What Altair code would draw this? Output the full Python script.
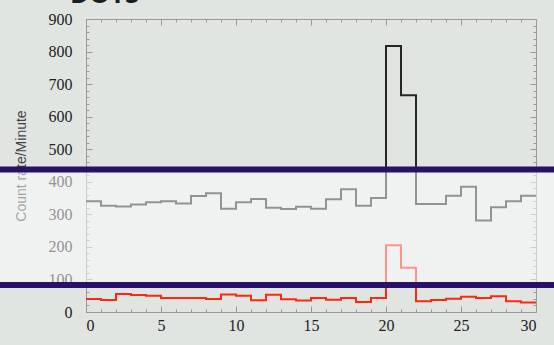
import altair as alt
import pandas as pd

# bin starts 0..29 (width 1), step series
bin_start = list(range(30))
gray_vals = [340, 326, 324, 330, 337, 340, 333, 356, 365, 317,
             337, 347, 320, 316, 323, 317, 346, 377, 326, 350,
             817, 666, 332, 332, 357, 385, 281, 322, 340, 357]
red_vals = [40, 37, 55, 52, 50, 43, 43, 43, 40, 54,
            50, 36, 53, 39, 35, 43, 38, 43, 31, 43,
            205, 136, 33, 37, 41, 47, 43, 48, 33, 29]
band_lo, band_hi = 83, 438
x_major = [0, 5, 10, 15, 20, 25, 30]
x_minor = list(range(0, 31))
y_major = list(range(0, 901, 100))
y_minor = list(range(0, 901, 20))
title_text = "DOTS"

W, H = 450, 293
PAD_L, PAD_T, PAD_R, PAD_B = 86, 19, 18, 33
SERIF = "Liberation Serif"

df = pd.DataFrame({
    "x": bin_start + [30],
    "gray": gray_vals + [gray_vals[-1]],
    "red": red_vals + [red_vals[-1]],
})

xs = alt.Scale(domain=[0, 30], nice=False, zero=False)
ys = alt.Scale(domain=[0, 900], nice=False)
AX = "#9a9a9a"

base = alt.Chart(df)

gray_line = base.mark_line(interpolate="step-after", color="#262626", strokeWidth=2).encode(
    x=alt.X("x:Q", scale=xs, axis=alt.Axis(values=x_major, ticks=False, labelPadding=5, domainColor=AX,
                                           labelFont=SERIF, labelFontSize=16,
                                           labelColor="#222", title=None, orient="bottom", grid=False)),
    y=alt.Y("gray:Q", scale=ys, axis=alt.Axis(values=y_major, ticks=False, labelPadding=14, domainColor=AX,
                                              labelFont=SERIF, labelFontSize=16,
                                              labelColor="#222", title="Count rate/Minute",
                                              titleFont="Liberation Sans", titleFontSize=14,
                                              titleFontWeight="normal", titleColor="#444",
                                              titlePadding=20, orient="left", grid=False)),
)

red_line = base.mark_line(interpolate="step-after", color="#ff2612", strokeWidth=2).encode(
    x=alt.X("x:Q", scale=xs, axis=None),
    y=alt.Y("red:Q", scale=ys, axis=None),
)


def tick_layer(xvals, yvals, size, xorient, xoff, yorient, yoff):
    return base.mark_point(opacity=0).encode(
        x=alt.X("x:Q", scale=xs, axis=alt.Axis(values=xvals, labels=False, domain=False, grid=False,
                                               tickSize=size, tickColor=AX, title=None,
                                               orient=xorient, offset=xoff)),
        y=alt.Y("gray:Q", scale=ys, axis=alt.Axis(values=yvals, labels=False, domain=False, grid=False,
                                                  tickSize=size, tickColor=AX, title=None,
                                                  orient=yorient, offset=yoff)),
    )


# inward ticks: axis placed on the opposite edge so ticks point into the plot
t1 = tick_layer(x_major, y_major, 6, "top", -H, "right", -W)   # bottom & left edges, major
t2 = tick_layer(x_minor, y_minor, 3, "top", -H, "right", -W)   # bottom & left edges, minor
t3 = tick_layer(x_major, y_major, 6, "bottom", -H, "left", -W)  # top & right edges, major
t4 = tick_layer(x_minor, y_minor, 3, "bottom", -H, "left", -W)  # top & right edges, minor

band = alt.Chart(pd.DataFrame({"lo": [band_lo], "hi": [band_hi]})).mark_rect(
    color="white", opacity=0.5).encode(
    x=alt.value(-PAD_L), x2=alt.value(W + PAD_R),
    y=alt.Y("lo:Q", scale=ys, axis=None), y2="hi:Q",
)

rules = alt.Chart(pd.DataFrame({"v": [band_lo, band_hi]})).mark_rule(
    color="#2b1166", strokeWidth=6).encode(
    y=alt.Y("v:Q", scale=ys, axis=None),
    x=alt.value(-PAD_L), x2=alt.value(W + PAD_R),
)

title = alt.Chart(pd.DataFrame({"t": [title_text]})).mark_text(
    font="Open Sans", fontSize=26, fontWeight="bold", color="#1e1e1e",
    align="left", baseline="alphabetic").encode(
    text="t:N", x=alt.value(-16), y=alt.value(-PAD_T + 3),
)

chart = alt.layer(gray_line, red_line, t1, t2, t3, t4, band, rules, title).resolve_axis(
    x="independent", y="independent"
).properties(
    width=W, height=H,
    autosize=alt.AutoSizeParams(type="none"),
    padding={"left": PAD_L, "top": PAD_T, "right": PAD_R, "bottom": PAD_B},
    background="#e0e5e2",
).configure_view(stroke=AX, strokeWidth=1)

chart.save("out.html", embed_options={"renderer": "svg", "actions": False})
